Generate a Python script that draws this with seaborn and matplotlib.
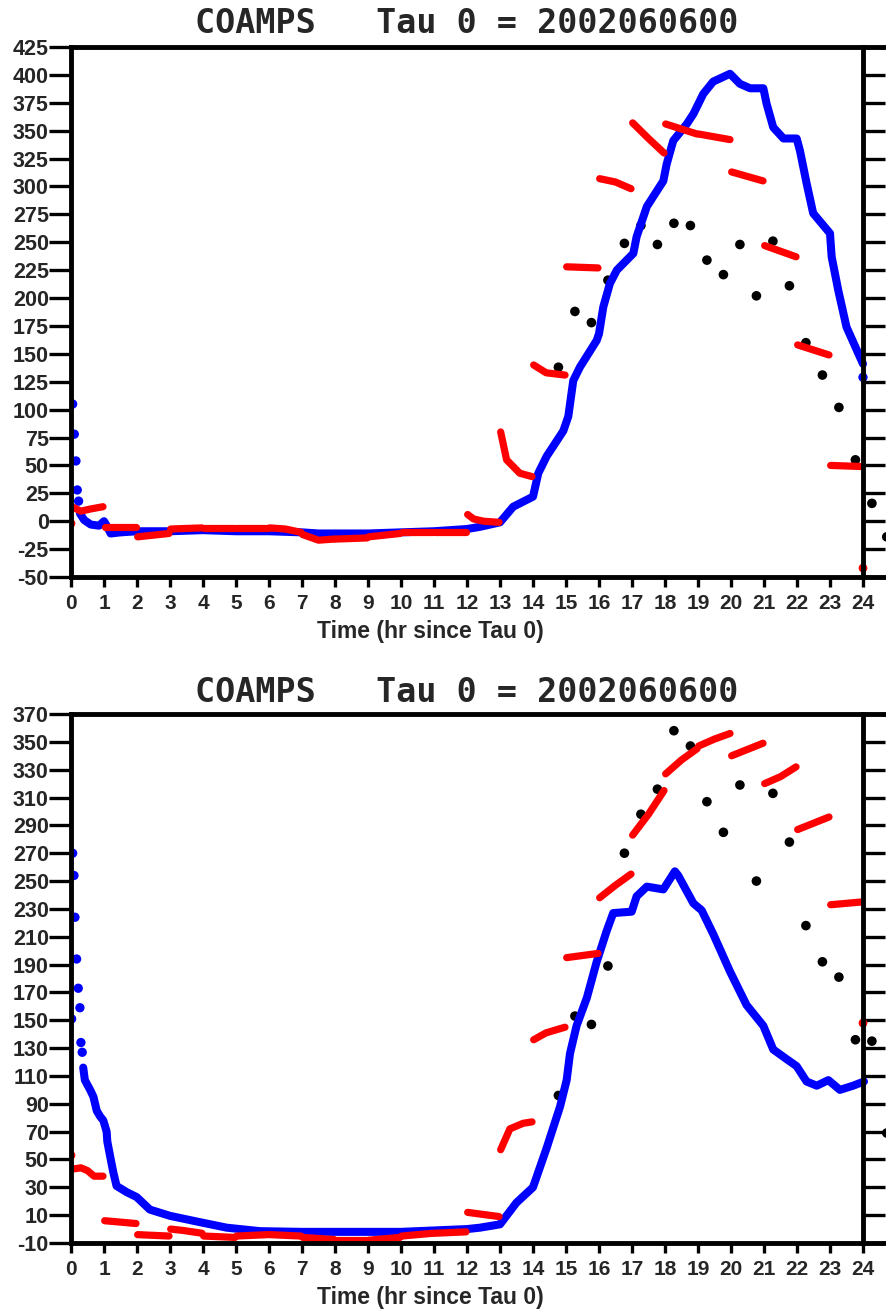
import numpy as np
import pandas as pd
import matplotlib
matplotlib.use("Agg")
import matplotlib.pyplot as plt
import seaborn as sns

# ---------------- data ----------------
HOURS = list(range(25))
TITLE = "COAMPS   Tau 0 = 2002060600"
XLABEL = "Time (hr since Tau 0)"
TOP_YTICKS = list(range(-50, 426, 25))
BOT_YTICKS = list(range(-10, 371, 20))

# top panel, blue (model, dense)
BLUE_TOP_SPIKE_T = [0.05, 0.10, 0.15, 0.19, 0.23]
BLUE_TOP_SPIKE_V = [105, 78, 54, 28, 18]
BLUE_TOP_T = [0.27, 0.40, 0.60, 0.85, 1.00, 1.10, 1.20, 1.50, 2.0, 3.0, 4.0, 5.0, 6.0,
              7.0, 7.5, 8.0, 9.0, 10.0, 11.0, 12.0, 12.4, 13.0, 13.4, 14.0, 14.16,
              14.41, 14.92, 15.07, 15.22, 15.42, 15.93, 16.0, 16.13, 16.33, 16.54,
              17.04, 17.14, 17.45, 17.95, 18.05, 18.25, 18.66, 18.86, 19.16, 19.46,
              19.97, 20.27, 20.58, 20.98, 21.08, 21.28, 21.59, 21.99, 22.09, 22.29,
              22.49, 23.0, 23.05, 23.25, 23.5, 24.0]
BLUE_TOP_V = [7, 1, -3, -4, 0, -5, -11, -10, -9, -9, -8, -9, -9,
              -10, -11, -11, -11, -10, -9, -7, -5, -1, 13, 22, 43,
              58, 81, 94, 126, 138, 162, 168, 192, 213, 225,
              240, 255, 282, 305, 320, 341, 356, 365, 383, 394,
              401, 392, 388, 388, 374, 353, 343, 343, 332, 303,
              276, 258, 237, 207, 174, 141]
BLUE_TOP_END_T = [24.0]
BLUE_TOP_END_V = [129]

# top panel, red hourly segments
RED_TOP_T = [[0.02, 0.3, 0.6, 0.97], [1.02, 1.97], [2.02, 2.97], [3.02, 3.97],
             [4.02, 4.97], [5.02, 5.97], [6.02, 6.5, 6.97], [7.02, 7.5, 7.97],
             [8.02, 8.97], [9.02, 9.97], [10.02, 10.97], [11.02, 11.97],
             [12.02, 12.2, 12.5, 12.97], [13.02, 13.2, 13.6, 13.97],
             [14.02, 14.4, 14.97], [15.02, 15.97], [16.02, 16.5, 16.97],
             [17.02, 17.5, 17.97], [18.02, 18.97], [19.02, 19.97],
             [20.02, 20.97], [21.02, 21.97], [22.02, 22.97], [23.02, 23.97]]
RED_TOP_V = [[13, 9, 11, 13], [-5, -5], [-14, -11], [-7, -6],
             [-6, -6], [-6, -6], [-6, -7, -10], [-12, -17, -16],
             [-16, -15], [-14, -11], [-10, -10], [-10, -10],
             [6, 2, 0, -1], [80, 55, 43, 40],
             [140, 133, 131], [228, 227], [307, 304, 298],
             [357, 343, 330], [356, 347], [347, 342],
             [313, 305], [247, 237], [158, 149], [50, 49]]
RED_TOP_DOT_T = [0.0, 24.0]
RED_TOP_DOT_V = [-2, -42]

# top panel, black observations
BLACK_T = [14.77, 15.27, 15.77, 16.27, 16.77, 17.27, 17.77, 18.27, 18.77, 19.27,
           19.77, 20.27, 20.77, 21.27, 21.77, 22.27, 22.77, 23.27, 23.77, 24.27, 24.72]
BLACK_TOP_V = [138, 188, 178, 216, 249, 265, 248, 267, 265, 234,
               221, 248, 202, 251, 211, 160, 131, 102, 55, 16, -14]

# bottom panel, blue
BLUE_BOT_SPIKE_T = [0.02, 0.05, 0.09, 0.12, 0.17, 0.22, 0.27, 0.30, 0.34]
BLUE_BOT_SPIKE_V = [151, 270, 254, 224, 194, 173, 159, 134, 127]
BLUE_BOT_T = [0.37, 0.42, 0.58, 0.68, 0.78, 0.88, 0.98, 1.08, 1.10, 1.18, 1.28, 1.38,
              1.69, 1.99, 2.39, 3.0, 3.9, 4.72, 5.73, 7.0, 8.0, 9.0, 10.0, 11.0, 12.0,
              12.39, 13.0, 13.5, 14.0, 14.41, 14.82, 15.02, 15.12, 15.32, 15.63, 15.93,
              16.23, 16.43, 16.99, 17.14, 17.45, 17.95, 18.3, 18.4, 18.86, 19.11,
              19.46, 19.97, 20.47, 20.98, 21.28, 21.69, 21.99, 22.29, 22.6, 22.95,
              23.3, 23.7, 24.03]
BLUE_BOT_V = [116, 107, 100, 95, 85, 81, 78, 70, 63, 53, 41, 31,
              26.5, 23, 14, 9.5, 5, 1, -1.5, -2, -2, -2, -2, -1, 0,
              1, 3.4, 19, 30, 58, 88, 107, 126, 146, 166, 192,
              214, 227, 228, 239, 246, 244, 257, 254, 234, 229,
              212, 185, 161, 146, 129, 122, 117, 106, 103, 107,
              100, 103, 106]

# bottom panel, red hourly segments
RED_BOT_T = [[0.02, 0.3, 0.5, 0.7, 0.97], [1.02, 1.97], [2.02, 2.97], [3.02, 3.4, 3.97],
             [4.02, 4.97], [5.02, 5.97], [6.02, 6.97], [7.02, 7.97],
             [8.02, 8.97], [9.02, 9.97], [10.02, 10.97], [11.02, 11.97],
             [12.02, 12.97], [13.02, 13.3, 13.7, 13.97], [14.02, 14.4, 14.97],
             [15.02, 15.97], [16.02, 16.5, 16.97], [17.02, 17.5, 17.97],
             [18.02, 18.5, 18.97], [19.02, 19.5, 19.97], [20.02, 20.97],
             [21.02, 21.5, 21.97], [22.02, 22.97], [23.02, 23.97]]
RED_BOT_V = [[43, 44, 42, 38, 38], [6, 4], [-4, -5], [0, -1, -3],
             [-5, -6], [-5, -4], [-4, -5], [-6, -7.5],
             [-8, -8], [-8, -6], [-5, -3], [-3, -2],
             [12, 9], [57, 72, 76, 77], [136, 141, 145],
             [195, 198], [238, 247, 255], [283, 298, 315],
             [327, 337, 345], [347, 352, 356], [340, 349],
             [320, 325, 332], [287, 296], [233, 235]]
RED_BOT_DOT_T = [0.0, 24.0]
RED_BOT_DOT_V = [53, 148]

BLACK_BOT_V = [96, 153, 147, 189, 270, 298, 316, 358, 347, 307,
               285, 319, 250, 313, 278, 218, 192, 181, 136, 135, 69]

# ---------------- style ----------------
sns.set_theme(style="white")
plt.rcParams["font.family"] = ["Liberation Sans", "DejaVu Sans"]
plt.rcParams["font.weight"] = "bold"

W, H = 886, 1312
fig = plt.figure(figsize=(W / 100, H / 100), dpi=100)
fig.patch.set_facecolor("white")

XMAX = (886 - 71) / 33.0


def seg_frame(ts, vs):
    rows = []
    for i, (tt, vv) in enumerate(zip(ts, vs)):
        for a, b in zip(tt, vv):
            rows.append((i, a, b))
    return pd.DataFrame(rows, columns=["seg", "t", "v"])


def panel(rect, ylim, yticks, spike_t, spike_v, blue_t, blue_v, end_t, end_v,
          red_t, red_v, rdot_t, rdot_v, black_v, title_px):
    ax = fig.add_axes(rect)
    ax.set_facecolor("white")
    hpx = rect[3] * H

    # blue
    sns.lineplot(x=blue_t, y=blue_v, ax=ax, color="#0000ff", lw=5.8,
                 estimator=None, sort=False, solid_capstyle="round",
                 solid_joinstyle="round")
    sns.scatterplot(x=spike_t + end_t, y=spike_v + end_v, ax=ax, color="#0000ff",
                    s=45, edgecolor="none", linewidth=0)
    # red
    df = seg_frame(red_t, red_v)
    sns.lineplot(data=df, x="t", y="v", units="seg", estimator=None, ax=ax,
                 color="#ff0000", lw=5.2, solid_capstyle="round",
                 solid_joinstyle="round", legend=False)
    sns.scatterplot(x=rdot_t, y=rdot_v, ax=ax, color="#ff0000", s=40,
                    edgecolor="none", linewidth=0)
    # black
    sns.scatterplot(x=BLACK_T, y=black_v, ax=ax, color="black", s=48,
                    edgecolor="none", linewidth=0)

    ax.set_xlim(0, XMAX)
    ax.set_ylim(*ylim)
    ax.set_xlabel("")
    ax.set_ylabel("")
    for s in ax.spines.values():
        s.set_visible(True)
        s.set_linewidth(3.5)
        s.set_color("black")
    ax.spines["right"].set_position(("data", 24))

    ax.set_xticks(HOURS)
    ax.set_xticklabels([str(h) for h in HOURS])
    ax.set_yticks(yticks)
    ax.set_yticklabels([str(y) for y in yticks])
    ax.tick_params(axis="x", which="major", bottom=True, top=False, direction="out",
                   length=7, width=2.4, pad=5, labelsize=15, color="black")
    ax.tick_params(axis="y", which="major", left=True, right=True, direction="out",
                   length=15.5, width=2.4, pad=0.5, labelsize=15.5, color="black",
                   labelright=False)
    for lab in ax.get_xticklabels() + ax.get_yticklabels():
        lab.set_fontweight("bold")
    ax.grid(False)

    ax.text(12, 1 + title_px / hpx, TITLE, transform=ax.get_xaxis_transform(),
            ha="center", va="baseline", fontsize=24, fontweight="bold",
            family=["DejaVu Sans Mono"])
    ax.text(10.88, -61 / hpx, XLABEL, transform=ax.get_xaxis_transform(),
            ha="center", va="baseline", fontsize=16.5, fontweight="bold")
    return ax


left = 71 / W
width = 1 - left
panel([left, 1 - 577 / H, width, (577 - 47) / H], (-50, 425), TOP_YTICKS,
      BLUE_TOP_SPIKE_T, BLUE_TOP_SPIKE_V, BLUE_TOP_T, BLUE_TOP_V,
      BLUE_TOP_END_T, BLUE_TOP_END_V, RED_TOP_T, RED_TOP_V,
      RED_TOP_DOT_T, RED_TOP_DOT_V, BLACK_TOP_V, 14)
panel([left, 1 - 1243 / H, width, (1243 - 714) / H], (-10, 370), BOT_YTICKS,
      BLUE_BOT_SPIKE_T, BLUE_BOT_SPIKE_V, BLUE_BOT_T, BLUE_BOT_V,
      [], [], RED_BOT_T, RED_BOT_V,
      RED_BOT_DOT_T, RED_BOT_DOT_V, BLACK_BOT_V, 12)

fig.savefig("out.png", dpi=100, facecolor="white")
